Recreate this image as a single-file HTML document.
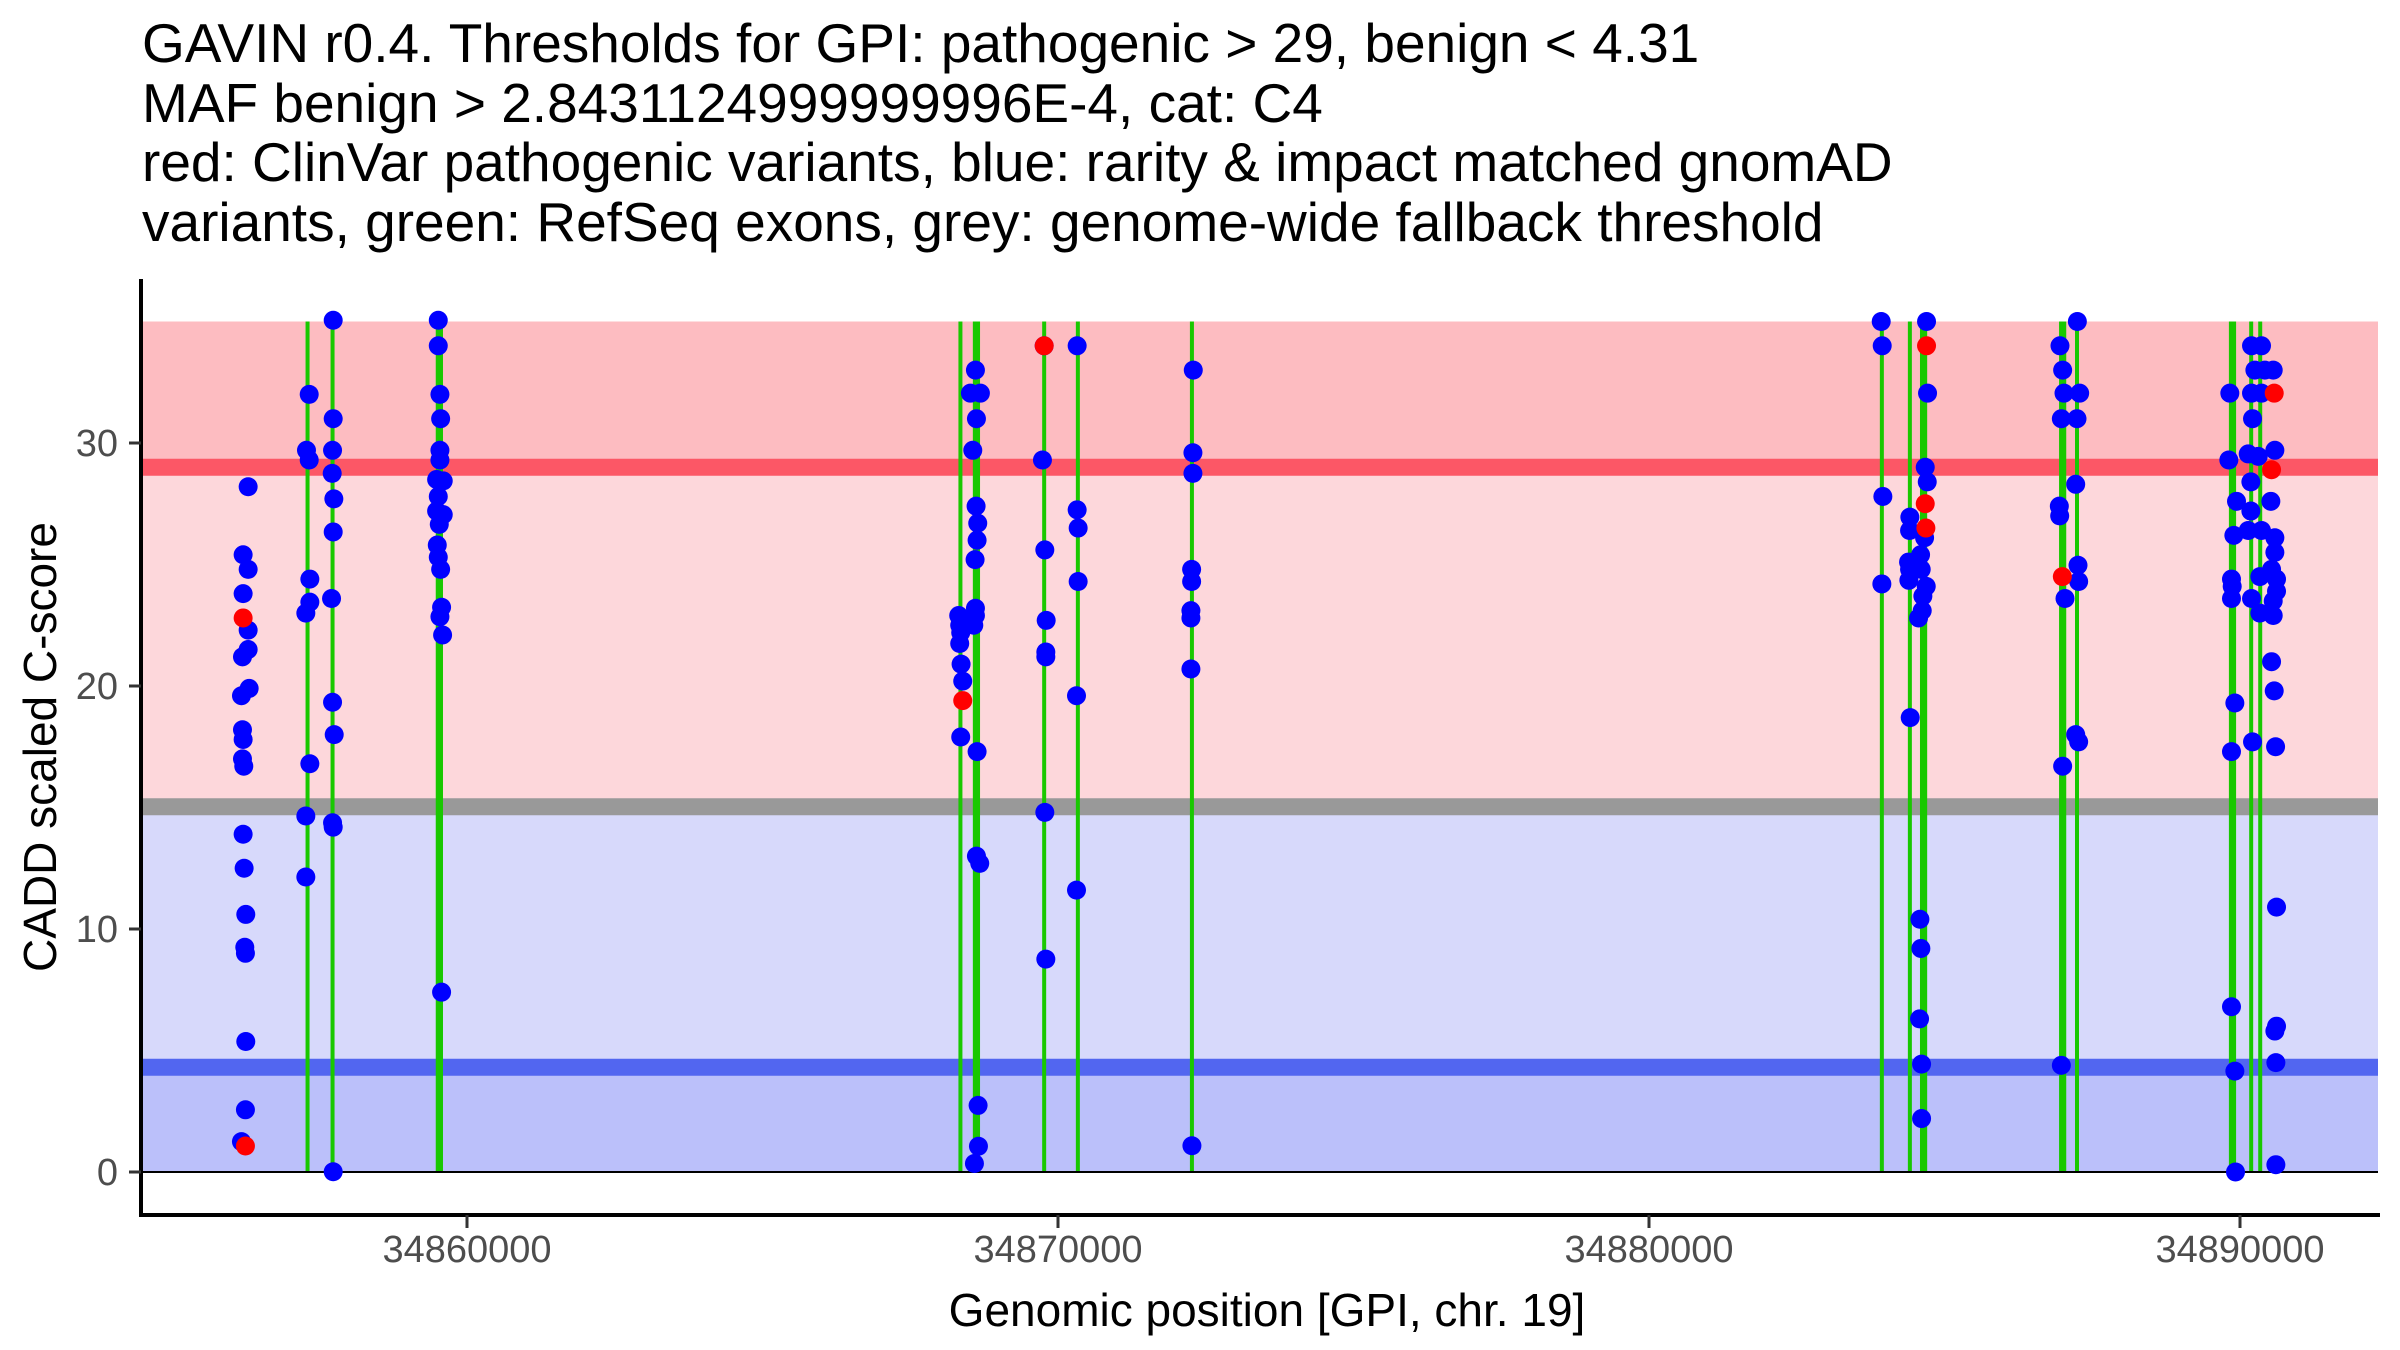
<!DOCTYPE html>
<html><head><meta charset="utf-8"><style>
html,body{margin:0;padding:0;background:#fff;}
svg{display:block;font-family:"Liberation Sans",Arial,sans-serif;}
</style></head><body>
<svg id="chart" width="2400" height="1350" viewBox="0 0 2400 1350" xmlns="http://www.w3.org/2000/svg">
<g font-size="55" fill="#000">
<text x="142" y="62">GAVIN r0.4. Thresholds for GPI: pathogenic &gt; 29, benign &lt; 4.31</text>
<text x="142" y="122">MAF benign &gt; 2.8431124999999996E-4, cat: C4</text>
<text x="142" y="181">red: ClinVar pathogenic variants, blue: rarity &amp; impact matched gnomAD</text>
<text x="142" y="241">variants, green: RefSeq exons, grey: genome-wide fallback threshold</text>
</g>
<g id="bands"></g><g id="exons"></g><g id="pts"></g><g id="axes"></g>
</svg>
<script>
const xTicks=[34860000,34870000,34880000,34890000];
const yTicks=[0,10,20,30];
const pathoThr=29, benignThr=4.31, fallbackThr=15.03, yMax=35;
const exons=[34857302,34857725,34859505,34859560,34868349,34868593,34868647,34869766,34870336,34872266,34883940,34884414,34884619,34884673,34886972,34887026,34887242,34889846,34889900,34890189,34890342];
const bluePos=[
34856297,34856212,34856297,34856212,34856297,34856297,34856201,34856314,34856184,34856201,34856212,34856201,34856223,34856212,34856229,34856257,34856240,34856251,34856257,34856251,34856184,
34857330,34857284,34857330,34857341,34857341,34857273,34857341,34857273,34857273,
34857736,34857736,34857725,34857719,34857747,34857736,34857708,34857725,34857753,34857725,34857736,34857736,
34859514,34859514,34859542,34859554,34859542,34859542,34859486,34859598,34859514,34859486,34859598,34859531,34859497,34859514,34859554,34859570,34859542,34859587,34859570,
34868603,34868518,34868687,34868620,34868558,34868614,34868642,34868631,34868597,34868603,34868603,34868575,34868320,34868337,34868354,34868337,34868360,34868388,34868354,34868631,34868620,34868676,34868648,34868654,34868586,
34869766,34869737,34869777,34869800,34869794,34869794,34869777,34869794,
34870324,34870324,34870341,34870341,34870313,34870313,
34872289,34872283,34872283,34872261,34872261,34872249,34872249,34872249,34872266,
34883929,34883946,34883957,34883940,
34884414,34884409,34884392,34884409,34884397,34884420,
34884696,34884713,34884674,34884708,34884663,34884595,34884606,34884691,34884634,34884623,34884561,34884584,34884600,34884578,34884612,34884612,
34886954,34886999,34887022,34886977,34886943,34886949,34887039,34886999,34886977,
34887248,34887287,34887242,34887220,34887259,34887270,34887220,34887270,
34889828,34889811,34889941,34889896,34889856,34889868,34889856,34889913,34889856,34889856,34889913,34889924,
34890195,34890364,34890252,34890421,34890562,34890195,34890364,34890212,34890139,34890308,34890590,34890184,34890522,34890184,34890139,34890364,34890590,34890590,34890336,34890534,34890618,34890618,34890195,34890562,34890336,34890562,34890534,34890579,34890212,34890602,34890618,34890618,34890590,34890607,34890607];
const blueVal=[
28.2,25.4,24.8,23.8,22.3,21.5,21.2,19.9,19.6,18.2,17.8,17.0,16.7,13.9,12.5,10.6,9.25,9.0,5.37,2.56,1.25,
32.0,29.7,29.3,24.4,23.45,23.0,16.8,14.65,12.14,
35.05,31.0,29.7,28.75,27.7,26.34,23.6,19.33,18.0,14.37,14.19,0.01,
35.05,34.0,32.0,31.0,29.7,29.3,28.5,28.44,27.8,27.2,27.05,26.65,25.8,25.3,24.8,23.24,22.85,22.1,7.4,
33.0,32.05,32.05,31.0,29.7,27.4,26.7,26.0,25.2,23.2,22.9,22.5,22.9,22.5,22.2,21.75,20.9,20.2,17.9,17.3,13.0,12.7,2.74,1.06,0.35,
34.0,29.3,25.6,22.7,21.4,21.2,14.8,8.76,
34.0,27.25,26.5,24.3,19.6,11.6,
33.0,29.6,28.75,24.8,24.3,23.1,22.8,20.7,1.08,
35.0,34.0,27.8,24.2,
26.95,26.4,25.1,24.8,24.35,18.7,
35.0,32.05,29.0,28.4,26.1,25.4,24.8,24.1,23.7,23.1,22.8,10.4,9.2,6.3,4.44,2.2,
34.0,33.0,32.05,31.0,27.4,27.0,23.6,16.7,4.39,
35.0,32.05,31.0,28.3,24.97,24.3,18.0,17.7,
32.05,29.3,27.6,26.2,24.4,24.1,23.6,19.3,17.3,6.8,4.15,0,
34.0,34.0,33.0,33.0,33.0,32.05,32.05,31.0,29.55,29.45,29.7,28.4,27.6,27.2,26.4,26.4,26.1,25.5,24.5,24.8,24.4,23.9,23.6,23.5,23.0,22.9,21.0,19.8,17.7,17.5,10.9,6.0,5.8,4.5,0.3];
const redPos=[34856212,34856251,34868388,34869766,34884696,34884674,34884685,34886994,34890579,34890534];
const redVal=[22.8,1.07,19.4,34.0,34.0,27.5,26.5,24.5,32.05,28.9];

const NS="http://www.w3.org/2000/svg";
const X0=141, X1=2378;
function xs(g){return 467+(g-34860000)/10000*591;}
function ys(v){return 1172-v*24.3;}
function mk(tag,attrs,parent){const e=document.createElementNS(NS,tag);for(const k in attrs)e.setAttribute(k,attrs[k]);parent.appendChild(e);return e;}
const bands=document.getElementById('bands');
let r;
r=mk('rect',{x:X0,y:ys(yMax),width:X1-X0,height:ys(pathoThr)-ys(yMax),fill:'#fdbcc1'},bands);


r=mk('rect',{x:X0,y:ys(pathoThr),width:X1-X0,height:ys(fallbackThr)-ys(pathoThr),fill:'#fdd7db'},bands);


r=mk('rect',{x:X0,y:ys(fallbackThr),width:X1-X0,height:ys(benignThr)-ys(fallbackThr),fill:'#d7d9fb'},bands);


r=mk('rect',{x:X0,y:ys(benignThr),width:X1-X0,height:ys(0)-ys(benignThr),fill:'#bbc0fa'},bands);


r=mk('line',{x1:X0,x2:X1,y1:ys(pathoThr),y2:ys(pathoThr),stroke:'#fc5766','stroke-width':17},bands);


r=mk('line',{x1:X0,x2:X1,y1:ys(fallbackThr),y2:ys(fallbackThr),stroke:'#999999','stroke-width':17},bands);


r=mk('line',{x1:X0,x2:X1,y1:ys(benignThr),y2:ys(benignThr),stroke:'#5266f0','stroke-width':17},bands);


const ex=document.getElementById('exons');
exons.forEach(g=>{
  const l=mk('line',{x1:xs(g),x2:xs(g),y1:ys(yMax),y2:ys(0),stroke:'#19c800','stroke-width':4},ex);
  
  
});
r=mk('line',{x1:X0,x2:X1,y1:ys(0),y2:ys(0),stroke:'#000','stroke-width':2},ex);


const pts=document.getElementById('pts');
bluePos.forEach((g,i)=>{
  const c=mk('circle',{cx:xs(g),cy:ys(blueVal[i]),r:9.5,fill:'#0000ff'},pts);
  
  
});
redPos.forEach((g,i)=>{
  const c=mk('circle',{cx:xs(g),cy:ys(redVal[i]),r:9.5,fill:'#ff0000'},pts);
  
  
});
const ax=document.getElementById('axes');
r=mk('line',{x1:X0,x2:X0,y1:279,y2:1217,stroke:'#000','stroke-width':4},ax);


r=mk('line',{x1:X0-2,x2:2380,y1:1215,y2:1215,stroke:'#000','stroke-width':4},ax);


yTicks.forEach(v=>{
  const t=mk('line',{x1:129,x2:X0,y1:ys(v),y2:ys(v),stroke:'#333','stroke-width':3},ax);
  
  
  const s=mk('text',{x:118,y:ys(v)+13,'text-anchor':'end','font-size':38,fill:'#4d4d4d'},ax);
  s.textContent=v;
  
  
});
xTicks.forEach(g=>{
  const t=mk('line',{x1:xs(g),x2:xs(g),y1:1215,y2:1228,stroke:'#333','stroke-width':3},ax);
  
  
  const s=mk('text',{x:xs(g),y:1262,'text-anchor':'middle','font-size':38,fill:'#4d4d4d'},ax);
  s.textContent=g;
  
  
});
r=mk('text',{x:1267,y:1326,'text-anchor':'middle','font-size':46,fill:'#000'},ax);
r.textContent='Genomic position [GPI, chr. 19]';


r=mk('text',{x:0,y:0,'text-anchor':'middle','font-size':46,fill:'#000',transform:'translate(56,747) rotate(-90)'},ax);
r.textContent='CADD scaled C-score';


</script>
</body></html>
